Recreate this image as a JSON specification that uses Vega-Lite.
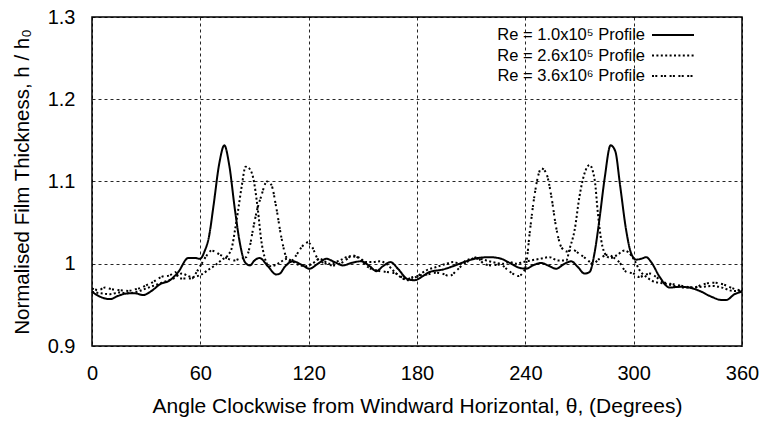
{
  "$schema": "https://vega.github.io/schema/vega-lite/v6.json",
  "width": 650,
  "height": 329,
  "autosize": {"type": "none"},
  "padding": {"left": 92, "top": 17, "right": 22, "bottom": 75},
  "config": {
    "font": "Liberation Sans",
    "view": {"stroke": "#000", "strokeWidth": 1.5},
    "axis": {
      "domain": false, "ticks": false, "grid": true,
      "gridColor": "#000", "gridDash": [3, 3], "gridWidth": 1, "gridOpacity": 0.85,
      "labelFont": "Liberation Sans", "labelFontSize": 20, "labelColor": "#000",
      "titleFont": "Liberation Sans", "titleFontWeight": "normal", "titleColor": "#000",
      "labelFlush": false, "labelOverlap": false
    }
  },
  "data": {"values": [
    {"series": "Re = 1.0x10⁵ Profile", "theta": 0, "h": 0.966},
    {"series": "Re = 1.0x10⁵ Profile", "theta": 4.4, "h": 0.960},
    {"series": "Re = 1.0x10⁵ Profile", "theta": 10, "h": 0.957},
    {"series": "Re = 1.0x10⁵ Profile", "theta": 14.5, "h": 0.961},
    {"series": "Re = 1.0x10⁵ Profile", "theta": 20, "h": 0.964},
    {"series": "Re = 1.0x10⁵ Profile", "theta": 23.8, "h": 0.964},
    {"series": "Re = 1.0x10⁵ Profile", "theta": 28.4, "h": 0.962},
    {"series": "Re = 1.0x10⁵ Profile", "theta": 33, "h": 0.967},
    {"series": "Re = 1.0x10⁵ Profile", "theta": 37.6, "h": 0.975},
    {"series": "Re = 1.0x10⁵ Profile", "theta": 43.2, "h": 0.980},
    {"series": "Re = 1.0x10⁵ Profile", "theta": 47.8, "h": 0.990},
    {"series": "Re = 1.0x10⁵ Profile", "theta": 53.3, "h": 1.007},
    {"series": "Re = 1.0x10⁵ Profile", "theta": 57, "h": 1.007},
    {"series": "Re = 1.0x10⁵ Profile", "theta": 59.8, "h": 1.006},
    {"series": "Re = 1.0x10⁵ Profile", "theta": 62.5, "h": 1.016},
    {"series": "Re = 1.0x10⁵ Profile", "theta": 64.8, "h": 1.033},
    {"series": "Re = 1.0x10⁵ Profile", "theta": 67.2, "h": 1.069},
    {"series": "Re = 1.0x10⁵ Profile", "theta": 70.5, "h": 1.122},
    {"series": "Re = 1.0x10⁵ Profile", "theta": 73.3, "h": 1.144},
    {"series": "Re = 1.0x10⁵ Profile", "theta": 76, "h": 1.120},
    {"series": "Re = 1.0x10⁵ Profile", "theta": 79.2, "h": 1.065},
    {"series": "Re = 1.0x10⁵ Profile", "theta": 82, "h": 1.024},
    {"series": "Re = 1.0x10⁵ Profile", "theta": 84.7, "h": 1.002},
    {"series": "Re = 1.0x10⁵ Profile", "theta": 87.5, "h": 0.998},
    {"series": "Re = 1.0x10⁵ Profile", "theta": 90, "h": 1.004},
    {"series": "Re = 1.0x10⁵ Profile", "theta": 92.8, "h": 1.007},
    {"series": "Re = 1.0x10⁵ Profile", "theta": 97.4, "h": 0.997},
    {"series": "Re = 1.0x10⁵ Profile", "theta": 102, "h": 0.987},
    {"series": "Re = 1.0x10⁵ Profile", "theta": 104, "h": 0.988},
    {"series": "Re = 1.0x10⁵ Profile", "theta": 106.7, "h": 0.996},
    {"series": "Re = 1.0x10⁵ Profile", "theta": 111.3, "h": 1.003},
    {"series": "Re = 1.0x10⁵ Profile", "theta": 115.9, "h": 0.999},
    {"series": "Re = 1.0x10⁵ Profile", "theta": 120.5, "h": 0.994},
    {"series": "Re = 1.0x10⁵ Profile", "theta": 125.1, "h": 1.000},
    {"series": "Re = 1.0x10⁵ Profile", "theta": 129.8, "h": 1.006},
    {"series": "Re = 1.0x10⁵ Profile", "theta": 134.4, "h": 1.002},
    {"series": "Re = 1.0x10⁵ Profile", "theta": 139, "h": 0.998},
    {"series": "Re = 1.0x10⁵ Profile", "theta": 143.6, "h": 1.001},
    {"series": "Re = 1.0x10⁵ Profile", "theta": 149.1, "h": 1.003},
    {"series": "Re = 1.0x10⁵ Profile", "theta": 153.8, "h": 0.997},
    {"series": "Re = 1.0x10⁵ Profile", "theta": 157.5, "h": 0.991},
    {"series": "Re = 1.0x10⁵ Profile", "theta": 161.1, "h": 0.997},
    {"series": "Re = 1.0x10⁵ Profile", "theta": 165.4, "h": 1.002},
    {"series": "Re = 1.0x10⁵ Profile", "theta": 169.4, "h": 0.994},
    {"series": "Re = 1.0x10⁵ Profile", "theta": 175, "h": 0.981},
    {"series": "Re = 1.0x10⁵ Profile", "theta": 178.7, "h": 0.980},
    {"series": "Re = 1.0x10⁵ Profile", "theta": 183.3, "h": 0.985},
    {"series": "Re = 1.0x10⁵ Profile", "theta": 187, "h": 0.990},
    {"series": "Re = 1.0x10⁵ Profile", "theta": 194.4, "h": 0.993},
    {"series": "Re = 1.0x10⁵ Profile", "theta": 199.9, "h": 0.997},
    {"series": "Re = 1.0x10⁵ Profile", "theta": 207.3, "h": 1.003},
    {"series": "Re = 1.0x10⁵ Profile", "theta": 213.7, "h": 1.007},
    {"series": "Re = 1.0x10⁵ Profile", "theta": 220.2, "h": 1.008},
    {"series": "Re = 1.0x10⁵ Profile", "theta": 226.7, "h": 1.006},
    {"series": "Re = 1.0x10⁵ Profile", "theta": 232.2, "h": 1.000},
    {"series": "Re = 1.0x10⁵ Profile", "theta": 236.8, "h": 0.995},
    {"series": "Re = 1.0x10⁵ Profile", "theta": 240.5, "h": 0.994},
    {"series": "Re = 1.0x10⁵ Profile", "theta": 244.2, "h": 0.998},
    {"series": "Re = 1.0x10⁵ Profile", "theta": 248.8, "h": 1.001},
    {"series": "Re = 1.0x10⁵ Profile", "theta": 252.5, "h": 0.998},
    {"series": "Re = 1.0x10⁵ Profile", "theta": 257.1, "h": 0.994},
    {"series": "Re = 1.0x10⁵ Profile", "theta": 261.7, "h": 1.000},
    {"series": "Re = 1.0x10⁵ Profile", "theta": 265.4, "h": 1.003},
    {"series": "Re = 1.0x10⁵ Profile", "theta": 269.1, "h": 0.996},
    {"series": "Re = 1.0x10⁵ Profile", "theta": 272.8, "h": 0.988},
    {"series": "Re = 1.0x10⁵ Profile", "theta": 275.6, "h": 0.990},
    {"series": "Re = 1.0x10⁵ Profile", "theta": 278.4, "h": 1.014},
    {"series": "Re = 1.0x10⁵ Profile", "theta": 281.1, "h": 1.055},
    {"series": "Re = 1.0x10⁵ Profile", "theta": 284, "h": 1.105},
    {"series": "Re = 1.0x10⁵ Profile", "theta": 287.2, "h": 1.144},
    {"series": "Re = 1.0x10⁵ Profile", "theta": 289.8, "h": 1.137},
    {"series": "Re = 1.0x10⁵ Profile", "theta": 292.5, "h": 1.095},
    {"series": "Re = 1.0x10⁵ Profile", "theta": 295.9, "h": 1.040},
    {"series": "Re = 1.0x10⁵ Profile", "theta": 298.7, "h": 1.012},
    {"series": "Re = 1.0x10⁵ Profile", "theta": 301.4, "h": 1.005},
    {"series": "Re = 1.0x10⁵ Profile", "theta": 304, "h": 1.006},
    {"series": "Re = 1.0x10⁵ Profile", "theta": 307, "h": 1.008},
    {"series": "Re = 1.0x10⁵ Profile", "theta": 309.7, "h": 1.002},
    {"series": "Re = 1.0x10⁵ Profile", "theta": 314.4, "h": 0.984},
    {"series": "Re = 1.0x10⁵ Profile", "theta": 319.9, "h": 0.971},
    {"series": "Re = 1.0x10⁵ Profile", "theta": 325.4, "h": 0.972},
    {"series": "Re = 1.0x10⁵ Profile", "theta": 330.9, "h": 0.971},
    {"series": "Re = 1.0x10⁵ Profile", "theta": 336.5, "h": 0.967},
    {"series": "Re = 1.0x10⁵ Profile", "theta": 343, "h": 0.960},
    {"series": "Re = 1.0x10⁵ Profile", "theta": 348.5, "h": 0.956},
    {"series": "Re = 1.0x10⁵ Profile", "theta": 351.3, "h": 0.956},
    {"series": "Re = 1.0x10⁵ Profile", "theta": 355.9, "h": 0.963},
    {"series": "Re = 1.0x10⁵ Profile", "theta": 360, "h": 0.966},

    {"series": "Re = 2.6x10⁵ Profile", "theta": 0, "h": 0.966},
    {"series": "Re = 2.6x10⁵ Profile", "theta": 5, "h": 0.964},
    {"series": "Re = 2.6x10⁵ Profile", "theta": 10, "h": 0.963},
    {"series": "Re = 2.6x10⁵ Profile", "theta": 15, "h": 0.965},
    {"series": "Re = 2.6x10⁵ Profile", "theta": 20, "h": 0.964},
    {"series": "Re = 2.6x10⁵ Profile", "theta": 25, "h": 0.966},
    {"series": "Re = 2.6x10⁵ Profile", "theta": 30, "h": 0.970},
    {"series": "Re = 2.6x10⁵ Profile", "theta": 35, "h": 0.974},
    {"series": "Re = 2.6x10⁵ Profile", "theta": 40, "h": 0.978},
    {"series": "Re = 2.6x10⁵ Profile", "theta": 45, "h": 0.982},
    {"series": "Re = 2.6x10⁵ Profile", "theta": 49.6, "h": 0.988},
    {"series": "Re = 2.6x10⁵ Profile", "theta": 55.2, "h": 0.984},
    {"series": "Re = 2.6x10⁵ Profile", "theta": 60.7, "h": 0.987},
    {"series": "Re = 2.6x10⁵ Profile", "theta": 64, "h": 0.992},
    {"series": "Re = 2.6x10⁵ Profile", "theta": 68.1, "h": 0.998},
    {"series": "Re = 2.6x10⁵ Profile", "theta": 72, "h": 1.005},
    {"series": "Re = 2.6x10⁵ Profile", "theta": 75.5, "h": 1.011},
    {"series": "Re = 2.6x10⁵ Profile", "theta": 77.5, "h": 1.020},
    {"series": "Re = 2.6x10⁵ Profile", "theta": 79.2, "h": 1.041},
    {"series": "Re = 2.6x10⁵ Profile", "theta": 81, "h": 1.066},
    {"series": "Re = 2.6x10⁵ Profile", "theta": 82.9, "h": 1.094},
    {"series": "Re = 2.6x10⁵ Profile", "theta": 85.1, "h": 1.118},
    {"series": "Re = 2.6x10⁵ Profile", "theta": 86.5, "h": 1.117},
    {"series": "Re = 2.6x10⁵ Profile", "theta": 89.1, "h": 1.106},
    {"series": "Re = 2.6x10⁵ Profile", "theta": 91.9, "h": 1.065},
    {"series": "Re = 2.6x10⁵ Profile", "theta": 93.7, "h": 1.029},
    {"series": "Re = 2.6x10⁵ Profile", "theta": 95.6, "h": 1.008},
    {"series": "Re = 2.6x10⁵ Profile", "theta": 97.5, "h": 0.998},
    {"series": "Re = 2.6x10⁵ Profile", "theta": 99.3, "h": 0.997},
    {"series": "Re = 2.6x10⁵ Profile", "theta": 102, "h": 0.999},
    {"series": "Re = 2.6x10⁵ Profile", "theta": 105, "h": 1.003},
    {"series": "Re = 2.6x10⁵ Profile", "theta": 108, "h": 1.006},
    {"series": "Re = 2.6x10⁵ Profile", "theta": 111, "h": 1.003},
    {"series": "Re = 2.6x10⁵ Profile", "theta": 114, "h": 0.999},
    {"series": "Re = 2.6x10⁵ Profile", "theta": 118, "h": 0.997},
    {"series": "Re = 2.6x10⁵ Profile", "theta": 122, "h": 1.000},
    {"series": "Re = 2.6x10⁵ Profile", "theta": 126.1, "h": 1.006},
    {"series": "Re = 2.6x10⁵ Profile", "theta": 131.6, "h": 1.000},
    {"series": "Re = 2.6x10⁵ Profile", "theta": 137.1, "h": 1.004},
    {"series": "Re = 2.6x10⁵ Profile", "theta": 142.7, "h": 1.009},
    {"series": "Re = 2.6x10⁵ Profile", "theta": 147.3, "h": 1.008},
    {"series": "Re = 2.6x10⁵ Profile", "theta": 151.9, "h": 1.002},
    {"series": "Re = 2.6x10⁵ Profile", "theta": 155.6, "h": 1.002},
    {"series": "Re = 2.6x10⁵ Profile", "theta": 159.3, "h": 1.003},
    {"series": "Re = 2.6x10⁵ Profile", "theta": 163, "h": 1.000},
    {"series": "Re = 2.6x10⁵ Profile", "theta": 167.6, "h": 0.990},
    {"series": "Re = 2.6x10⁵ Profile", "theta": 172.2, "h": 0.982},
    {"series": "Re = 2.6x10⁵ Profile", "theta": 175.9, "h": 0.980},
    {"series": "Re = 2.6x10⁵ Profile", "theta": 179.6, "h": 0.984},
    {"series": "Re = 2.6x10⁵ Profile", "theta": 185.1, "h": 0.992},
    {"series": "Re = 2.6x10⁵ Profile", "theta": 190.7, "h": 0.996},
    {"series": "Re = 2.6x10⁵ Profile", "theta": 196.2, "h": 1.000},
    {"series": "Re = 2.6x10⁵ Profile", "theta": 200, "h": 1.002},
    {"series": "Re = 2.6x10⁵ Profile", "theta": 204, "h": 1.000},
    {"series": "Re = 2.6x10⁵ Profile", "theta": 207.3, "h": 1.004},
    {"series": "Re = 2.6x10⁵ Profile", "theta": 211, "h": 1.006},
    {"series": "Re = 2.6x10⁵ Profile", "theta": 214.7, "h": 1.006},
    {"series": "Re = 2.6x10⁵ Profile", "theta": 218.4, "h": 1.004},
    {"series": "Re = 2.6x10⁵ Profile", "theta": 222, "h": 1.002},
    {"series": "Re = 2.6x10⁵ Profile", "theta": 227.6, "h": 1.000},
    {"series": "Re = 2.6x10⁵ Profile", "theta": 231.3, "h": 1.002},
    {"series": "Re = 2.6x10⁵ Profile", "theta": 235, "h": 1.000},
    {"series": "Re = 2.6x10⁵ Profile", "theta": 238.7, "h": 1.002},
    {"series": "Re = 2.6x10⁵ Profile", "theta": 243, "h": 1.004},
    {"series": "Re = 2.6x10⁵ Profile", "theta": 248, "h": 1.006},
    {"series": "Re = 2.6x10⁵ Profile", "theta": 253.4, "h": 1.008},
    {"series": "Re = 2.6x10⁵ Profile", "theta": 258, "h": 1.004},
    {"series": "Re = 2.6x10⁵ Profile", "theta": 262.7, "h": 1.004},
    {"series": "Re = 2.6x10⁵ Profile", "theta": 264.5, "h": 1.018},
    {"series": "Re = 2.6x10⁵ Profile", "theta": 267.3, "h": 1.041},
    {"series": "Re = 2.6x10⁵ Profile", "theta": 270, "h": 1.082},
    {"series": "Re = 2.6x10⁵ Profile", "theta": 272.8, "h": 1.110},
    {"series": "Re = 2.6x10⁵ Profile", "theta": 275.6, "h": 1.120},
    {"series": "Re = 2.6x10⁵ Profile", "theta": 278.4, "h": 1.102},
    {"series": "Re = 2.6x10⁵ Profile", "theta": 280.2, "h": 1.061},
    {"series": "Re = 2.6x10⁵ Profile", "theta": 282, "h": 1.029},
    {"series": "Re = 2.6x10⁵ Profile", "theta": 284.8, "h": 1.010},
    {"series": "Re = 2.6x10⁵ Profile", "theta": 287, "h": 1.007},
    {"series": "Re = 2.6x10⁵ Profile", "theta": 290.4, "h": 1.010},
    {"series": "Re = 2.6x10⁵ Profile", "theta": 295, "h": 1.016},
    {"series": "Re = 2.6x10⁵ Profile", "theta": 298.7, "h": 1.010},
    {"series": "Re = 2.6x10⁵ Profile", "theta": 300.5, "h": 1.004},
    {"series": "Re = 2.6x10⁵ Profile", "theta": 303.3, "h": 0.992},
    {"series": "Re = 2.6x10⁵ Profile", "theta": 307, "h": 0.984},
    {"series": "Re = 2.6x10⁵ Profile", "theta": 311.6, "h": 0.978},
    {"series": "Re = 2.6x10⁵ Profile", "theta": 317.1, "h": 0.976},
    {"series": "Re = 2.6x10⁵ Profile", "theta": 322.7, "h": 0.973},
    {"series": "Re = 2.6x10⁵ Profile", "theta": 328.2, "h": 0.971},
    {"series": "Re = 2.6x10⁵ Profile", "theta": 333, "h": 0.971},
    {"series": "Re = 2.6x10⁵ Profile", "theta": 338, "h": 0.972},
    {"series": "Re = 2.6x10⁵ Profile", "theta": 344, "h": 0.973},
    {"series": "Re = 2.6x10⁵ Profile", "theta": 349, "h": 0.971},
    {"series": "Re = 2.6x10⁵ Profile", "theta": 355, "h": 0.967},
    {"series": "Re = 2.6x10⁵ Profile", "theta": 360, "h": 0.967},

    {"series": "Re = 3.6x10⁶ Profile", "theta": 0, "h": 0.970},
    {"series": "Re = 3.6x10⁶ Profile", "theta": 3.5, "h": 0.968},
    {"series": "Re = 3.6x10⁶ Profile", "theta": 7.2, "h": 0.971},
    {"series": "Re = 3.6x10⁶ Profile", "theta": 11, "h": 0.969},
    {"series": "Re = 3.6x10⁶ Profile", "theta": 14.5, "h": 0.968},
    {"series": "Re = 3.6x10⁶ Profile", "theta": 20, "h": 0.967},
    {"series": "Re = 3.6x10⁶ Profile", "theta": 24, "h": 0.969},
    {"series": "Re = 3.6x10⁶ Profile", "theta": 27.5, "h": 0.971},
    {"series": "Re = 3.6x10⁶ Profile", "theta": 31, "h": 0.975},
    {"series": "Re = 3.6x10⁶ Profile", "theta": 34, "h": 0.978},
    {"series": "Re = 3.6x10⁶ Profile", "theta": 38.5, "h": 0.984},
    {"series": "Re = 3.6x10⁶ Profile", "theta": 43.2, "h": 0.986},
    {"series": "Re = 3.6x10⁶ Profile", "theta": 46, "h": 0.990},
    {"series": "Re = 3.6x10⁶ Profile", "theta": 48.7, "h": 0.982},
    {"series": "Re = 3.6x10⁶ Profile", "theta": 55.2, "h": 0.982},
    {"series": "Re = 3.6x10⁶ Profile", "theta": 58, "h": 0.990},
    {"series": "Re = 3.6x10⁶ Profile", "theta": 60.7, "h": 1.000},
    {"series": "Re = 3.6x10⁶ Profile", "theta": 63.5, "h": 1.010},
    {"series": "Re = 3.6x10⁶ Profile", "theta": 66.2, "h": 1.016},
    {"series": "Re = 3.6x10⁶ Profile", "theta": 70.9, "h": 1.011},
    {"series": "Re = 3.6x10⁶ Profile", "theta": 75.5, "h": 1.006},
    {"series": "Re = 3.6x10⁶ Profile", "theta": 78.5, "h": 1.004},
    {"series": "Re = 3.6x10⁶ Profile", "theta": 81.7, "h": 1.006},
    {"series": "Re = 3.6x10⁶ Profile", "theta": 85.4, "h": 1.008},
    {"series": "Re = 3.6x10⁶ Profile", "theta": 87.3, "h": 1.020},
    {"series": "Re = 3.6x10⁶ Profile", "theta": 89.1, "h": 1.041},
    {"series": "Re = 3.6x10⁶ Profile", "theta": 91.5, "h": 1.066},
    {"series": "Re = 3.6x10⁶ Profile", "theta": 93.7, "h": 1.082},
    {"series": "Re = 3.6x10⁶ Profile", "theta": 96.9, "h": 1.100},
    {"series": "Re = 3.6x10⁶ Profile", "theta": 99.3, "h": 1.096},
    {"series": "Re = 3.6x10⁶ Profile", "theta": 102, "h": 1.069},
    {"series": "Re = 3.6x10⁶ Profile", "theta": 104.8, "h": 1.033},
    {"series": "Re = 3.6x10⁶ Profile", "theta": 107.6, "h": 1.008},
    {"series": "Re = 3.6x10⁶ Profile", "theta": 110, "h": 1.003},
    {"series": "Re = 3.6x10⁶ Profile", "theta": 113, "h": 1.010},
    {"series": "Re = 3.6x10⁶ Profile", "theta": 116, "h": 1.020},
    {"series": "Re = 3.6x10⁶ Profile", "theta": 119.6, "h": 1.026},
    {"series": "Re = 3.6x10⁶ Profile", "theta": 122, "h": 1.020},
    {"series": "Re = 3.6x10⁶ Profile", "theta": 125, "h": 1.006},
    {"series": "Re = 3.6x10⁶ Profile", "theta": 129.7, "h": 1.000},
    {"series": "Re = 3.6x10⁶ Profile", "theta": 133.4, "h": 0.998},
    {"series": "Re = 3.6x10⁶ Profile", "theta": 139, "h": 1.002},
    {"series": "Re = 3.6x10⁶ Profile", "theta": 144.5, "h": 1.010},
    {"series": "Re = 3.6x10⁶ Profile", "theta": 148.2, "h": 1.006},
    {"series": "Re = 3.6x10⁶ Profile", "theta": 152.8, "h": 0.996},
    {"series": "Re = 3.6x10⁶ Profile", "theta": 157.4, "h": 0.992},
    {"series": "Re = 3.6x10⁶ Profile", "theta": 163, "h": 0.990},
    {"series": "Re = 3.6x10⁶ Profile", "theta": 168.5, "h": 0.988},
    {"series": "Re = 3.6x10⁶ Profile", "theta": 174.1, "h": 0.981},
    {"series": "Re = 3.6x10⁶ Profile", "theta": 178, "h": 0.984},
    {"series": "Re = 3.6x10⁶ Profile", "theta": 182, "h": 0.986},
    {"series": "Re = 3.6x10⁶ Profile", "theta": 186, "h": 0.987},
    {"series": "Re = 3.6x10⁶ Profile", "theta": 190, "h": 0.989},
    {"series": "Re = 3.6x10⁶ Profile", "theta": 194, "h": 0.988},
    {"series": "Re = 3.6x10⁶ Profile", "theta": 198, "h": 0.985},
    {"series": "Re = 3.6x10⁶ Profile", "theta": 202, "h": 0.992},
    {"series": "Re = 3.6x10⁶ Profile", "theta": 206, "h": 1.000},
    {"series": "Re = 3.6x10⁶ Profile", "theta": 210, "h": 1.005},
    {"series": "Re = 3.6x10⁶ Profile", "theta": 213, "h": 1.008},
    {"series": "Re = 3.6x10⁶ Profile", "theta": 217, "h": 1.000},
    {"series": "Re = 3.6x10⁶ Profile", "theta": 221, "h": 0.998},
    {"series": "Re = 3.6x10⁶ Profile", "theta": 226, "h": 0.999},
    {"series": "Re = 3.6x10⁶ Profile", "theta": 230, "h": 0.993},
    {"series": "Re = 3.6x10⁶ Profile", "theta": 233, "h": 0.988},
    {"series": "Re = 3.6x10⁶ Profile", "theta": 236, "h": 0.985},
    {"series": "Re = 3.6x10⁶ Profile", "theta": 239, "h": 0.990},
    {"series": "Re = 3.6x10⁶ Profile", "theta": 240.5, "h": 1.000},
    {"series": "Re = 3.6x10⁶ Profile", "theta": 242.4, "h": 1.037},
    {"series": "Re = 3.6x10⁶ Profile", "theta": 245, "h": 1.082},
    {"series": "Re = 3.6x10⁶ Profile", "theta": 247.5, "h": 1.110},
    {"series": "Re = 3.6x10⁶ Profile", "theta": 248.8, "h": 1.116},
    {"series": "Re = 3.6x10⁶ Profile", "theta": 251.6, "h": 1.110},
    {"series": "Re = 3.6x10⁶ Profile", "theta": 254.4, "h": 1.082},
    {"series": "Re = 3.6x10⁶ Profile", "theta": 257, "h": 1.045},
    {"series": "Re = 3.6x10⁶ Profile", "theta": 260, "h": 1.020},
    {"series": "Re = 3.6x10⁶ Profile", "theta": 263, "h": 1.015},
    {"series": "Re = 3.6x10⁶ Profile", "theta": 266, "h": 1.017},
    {"series": "Re = 3.6x10⁶ Profile", "theta": 270, "h": 1.012},
    {"series": "Re = 3.6x10⁶ Profile", "theta": 273.7, "h": 1.006},
    {"series": "Re = 3.6x10⁶ Profile", "theta": 277.4, "h": 1.000},
    {"series": "Re = 3.6x10⁶ Profile", "theta": 281, "h": 1.006},
    {"series": "Re = 3.6x10⁶ Profile", "theta": 285.8, "h": 1.011},
    {"series": "Re = 3.6x10⁶ Profile", "theta": 288.5, "h": 1.008},
    {"series": "Re = 3.6x10⁶ Profile", "theta": 292, "h": 1.002},
    {"series": "Re = 3.6x10⁶ Profile", "theta": 296, "h": 0.990},
    {"series": "Re = 3.6x10⁶ Profile", "theta": 300, "h": 0.988},
    {"series": "Re = 3.6x10⁶ Profile", "theta": 303, "h": 0.984},
    {"series": "Re = 3.6x10⁶ Profile", "theta": 309, "h": 0.988},
    {"series": "Re = 3.6x10⁶ Profile", "theta": 312.5, "h": 0.984},
    {"series": "Re = 3.6x10⁶ Profile", "theta": 316, "h": 0.978},
    {"series": "Re = 3.6x10⁶ Profile", "theta": 322, "h": 0.975},
    {"series": "Re = 3.6x10⁶ Profile", "theta": 327, "h": 0.973},
    {"series": "Re = 3.6x10⁶ Profile", "theta": 333, "h": 0.971},
    {"series": "Re = 3.6x10⁶ Profile", "theta": 338.4, "h": 0.975},
    {"series": "Re = 3.6x10⁶ Profile", "theta": 343.9, "h": 0.977},
    {"series": "Re = 3.6x10⁶ Profile", "theta": 349.4, "h": 0.975},
    {"series": "Re = 3.6x10⁶ Profile", "theta": 355, "h": 0.970},
    {"series": "Re = 3.6x10⁶ Profile", "theta": 360, "h": 0.967}
  ]},
  "mark": {"type": "line", "color": "#000", "strokeWidth": 2, "interpolate": "monotone"},
  "encoding": {
    "x": {
      "field": "theta", "type": "quantitative",
      "scale": {"domain": [0, 360], "nice": false},
      "axis": {"values": [0, 60, 120, 180, 240, 300, 360], "title": "Angle Clockwise from Windward Horizontal, θ, (Degrees)", "titleFontSize": 21, "labelPadding": 17, "titlePadding": 12}
    },
    "y": {
      "field": "h", "type": "quantitative",
      "scale": {"domain": [0.9, 1.3], "nice": false, "zero": false},
      "axis": {"values": [0.9, 1, 1.1, 1.2, 1.3], "format": "~g", "title": "Normalised Film Thickness, h / h₀", "titleFontSize": 20.5, "labelPadding": 17, "titlePadding": 15}
    },
    "strokeDash": {
      "field": "series", "type": "nominal",
      "scale": {"domain": ["Re = 1.0x10⁵ Profile", "Re = 2.6x10⁵ Profile", "Re = 3.6x10⁶ Profile"], "range": [[1, 0], [2, 2.4], [2, 1.3, 2, 3.5]]},
      "legend": {
        "title": null, "orient": "none", "legendX": 570, "legendY": 7,
        "symbolType": "M-2.1,0H2.1", "symbolSize": 400, "symbolStrokeWidth": 2, "symbolStrokeColor": "#000", "symbolFillColor": "transparent",
        "rowPadding": 0.5, "padding": 0,
        "labelAlign": "right", "labelOffset": -39, "labelFontSize": 16.5, "labelFont": "Liberation Sans", "labelColor": "#000", "labelLimit": 0
      }
    }
  }
}
